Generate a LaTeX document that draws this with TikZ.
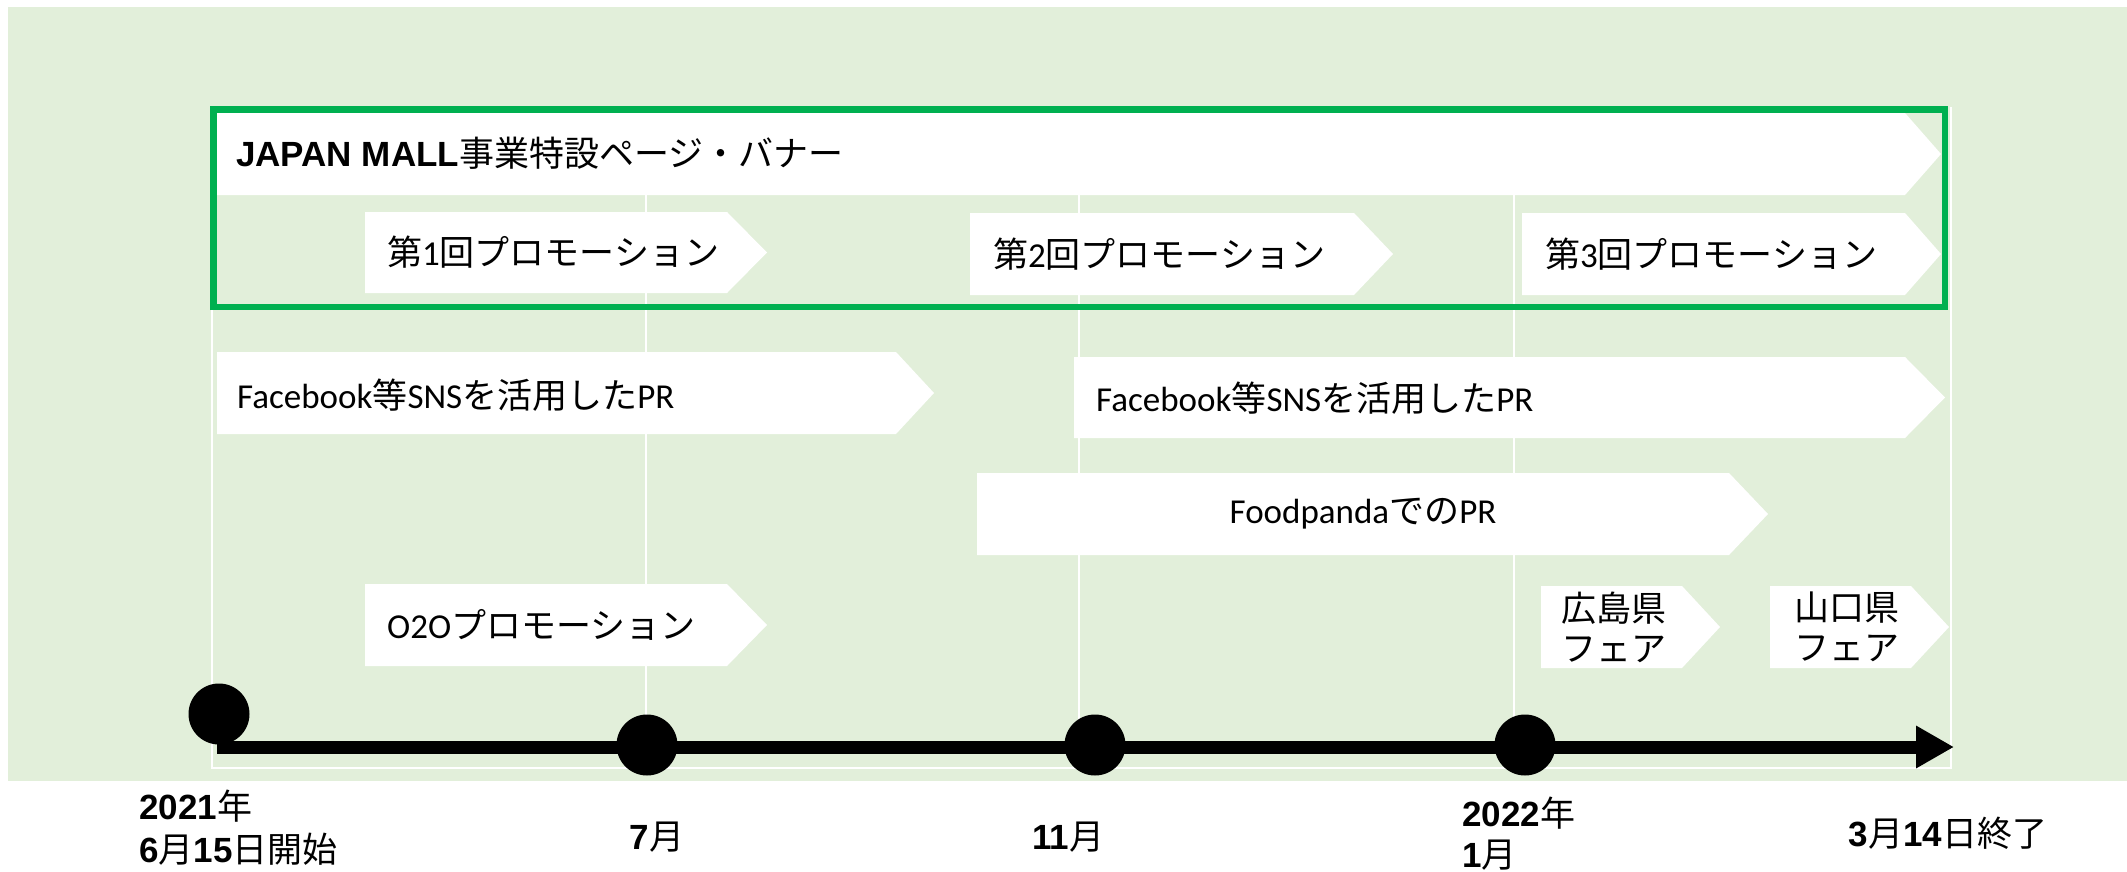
\documentclass[tikz,border=0pt]{standalone}
\usepackage{fontspec}
\setmainfont{Carlito}
\newfontfamily\jpfont{Noto Sans CJK JP}
\newfontfamily\arialfont{Liberation Sans}
\usetikzlibrary{arrows.meta}
\definecolor{bggreen}{HTML}{E2EFDA}
\definecolor{framegreen}{HTML}{00B050}
\newcommand\J[1]{{\jpfont #1}}
\newcommand\AB[1]{{\arialfont\bfseries #1}}
% x1, y1, x2 (body right), y2, tip x
\newcommand\chevron[5]{\fill[barfill] (#1,#2) -- (#3,#2) -- (#5,{(#2+#4)/2}) -- (#3,#4) -- (#1,#4) -- cycle;}
\tikzset{
  barfill/.style={fill=white},
  grid/.style={draw=white, line width=2.5},
  lbl/.style={anchor=west, inner sep=0, font=\fontsize{35}{42}\selectfont},
  datelbl/.style={inner sep=0, align=left, font=\fontsize{35}{43}\selectfont},
  dot/.style={circle, fill=black, inner sep=0, minimum size=61},
  timeline/.style={line width=13, -{Triangle[length=38pt,width=40pt]}},
  frame/.style={draw=framegreen, line width=6.5}
}
\begin{document}
\begin{tikzpicture}[x=1pt, y=-1pt]
\useasboundingbox (0,0) rectangle (2127,872);
% background
\fill[bggreen] (8,7) rectangle (2127,781);
% white grid
\draw[grid] (212,107) -- (212,768) -- (1951,768) -- (1951,107);
\foreach \gx in {646,1079,1514} \draw[grid] (\gx,107) -- (\gx,768);
% bars
\chevron{212}{113}{1905}{195}{1941}
\chevron{365}{212}{727}{293}{767}
\chevron{970}{213}{1354}{295}{1393}
\chevron{1522}{213}{1905}{295}{1941}
\chevron{217}{352}{896}{434}{934}
\chevron{1074}{357}{1905}{438}{1945}
\chevron{977}{473}{1729}{555}{1768}
\chevron{365}{584}{727}{666}{767}
\chevron{1541}{586}{1682}{668}{1720}
\chevron{1770}{586}{1911}{668}{1949}
% frame
\draw[frame] (213.5,109.7) rectangle (1945,307);
% bar texts
\node[lbl] (banner) at (236,153) {\AB{JAPAN MALL}\J{事業特設ページ・バナー}};
\node[lbl] (p1) at (387,252) {\J{第}1\J{回プロモーション}};
\node[lbl] (p2) at (993,254) {\J{第}2\J{回プロモーション}};
\node[lbl] (p3) at (1545,254) {\J{第}3\J{回プロモーション}};
\node[lbl] (fb1) at (237,395) {Facebook\J{等}SNS\J{を活用した}PR};
\node[lbl] (fb2) at (1096,398) {Facebook\J{等}SNS\J{を活用した}PR};
\node[lbl, anchor=center] (fp) at (1363,514) {Foodpanda\J{での}PR};
\node[lbl] (o2o) at (387,625) {O2O\J{プロモーション}};
\node[lbl, align=left, font=\fontsize{35}{40}\selectfont] (hiro) at (1561,627) {\J{広島県}\\\J{フェア}};
\node[lbl, align=left, font=\fontsize{35}{40}\selectfont] (yama) at (1794,627) {\J{山口県}\\\J{フェア}};
% timeline
\coordinate (tlstart) at (217,747);
\coordinate (tlend) at (1954,747);
\draw[timeline] (tlstart) -- (tlend);
\node[dot] (d1) at (219,714) {};
\node[dot] (d2) at (647,745) {};
\node[dot] (d3) at (1095,745) {};
\node[dot] (d4) at (1525,745) {};
% date labels
\node[datelbl, anchor=west] (l1) at (139,828) {\AB{2021}\J{年}\\\AB{6}\J{月}\AB{15}\J{日開始}};
\node[datelbl] (l2) at (657,837) {\AB{7}\J{月}};
\node[datelbl] (l3) at (1068,837) {\AB{11}\J{月}};
\node[datelbl, anchor=west, font=\fontsize{35}{41}\selectfont] (l4) at (1462,834) {\AB{2022}\J{年}\\\AB{1}\J{月}};
\node[datelbl] (l5) at (1948,833) {\AB{3}\J{月}\AB{14}\J{日終了}};
\end{tikzpicture}
\end{document}
